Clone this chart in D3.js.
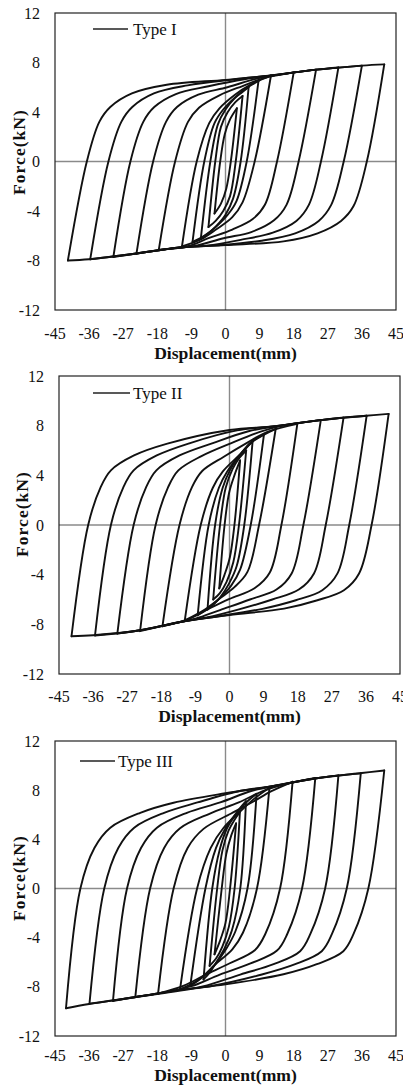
<!DOCTYPE html>
<html><head><meta charset="utf-8">
<script src="https://cdn.jsdelivr.net/npm/d3@7"></script>
<style>
html,body{margin:0;padding:0;background:#fff;}
svg{display:block;}
text{font-family:"Liberation Serif","Times New Roman",serif;fill:#111;}
</style></head>
<body>
<svg id="chart" width="403" height="1086"></svg>
<script>
// ---------- data ----------
const xTicks = [-45,-36,-27,-18,-9,0,9,18,27,36,45];
const yTicks = [-12,-8,-4,0,4,8,12];
const legendLabels = ["Type I","Type II","Type III"];
const xTitle = "Displacement(mm)";
const yTitle = "Force(kN)";

// Type I : ascending (negative peak -> positive peak) and descending branches, [mm, kN]
const typeI_asc = [
 [[-41.6,-8.0],[-36.6,0],[-33.3,3.2],[-30.4,4.4],[-24.7,5.5],[-15.5,6.2],[0,6.6],[12,6.95],[24,7.42],[36,7.75],[41.9,7.85]],
 [[-35.7,-7.9],[-30.9,0],[-27.5,3.2],[-24.6,4.4],[-18.9,5.5],[-10,6.15],[2,6.62],[12,6.95],[24,7.42],[36,7.75]],
 [[-29.6,-7.72],[-25.1,0],[-21.7,3.2],[-18.8,4.4],[-13.1,5.45],[-4.5,6.08],[5,6.65],[12,6.93],[24,7.42],[29.8,7.6]],
 [[-23.5,-7.45],[-19.1,0],[-15.7,3.2],[-12.8,4.4],[-7.2,5.4],[0.5,6.0],[8,6.68],[14,7.02],[23.9,7.42]],
 [[-17.6,-7.12],[-13.3,0],[-9.9,3.2],[-7.0,4.35],[-1.6,5.35],[4.5,6.1],[10,6.72],[18,7.2]],
 [[-11.5,-6.87],[-7.6,0],[-4.3,3.1],[-1.6,4.3],[2.5,5.4],[6.5,6.2],[12,6.95]],
 [[-8.7,-6.5],[-5.6,0],[-2.9,3.1],[-0.6,4.2],[2.6,5.2],[5.6,5.95],[8.7,6.5]],
 [[-6.5,-6.2],[-4.0,0],[-2.0,3.0],[0,4.2],[2.4,5.1],[4.4,5.6],[6.1,6.0]],
 [[-4.5,-5.3],[-2.7,0],[-1.2,2.8],[0.6,4.0],[2.6,4.8],[4.5,5.3]],
 [[-2.9,-4.2],[-1.4,0],[-0.2,2.2],[1.2,3.4],[3.0,4.3]]
];
const typeI_desc = [
 [[41.9,7.85],[37.3,0],[33.8,-3.6],[30.5,-4.8],[24.3,-5.8],[15.3,-6.45],[0,-6.75],[-12,-6.95],[-24,-7.45],[-36,-7.9],[-41.6,-8.0]],
 [[36.0,7.75],[31.2,0],[27.9,-3.5],[24.6,-4.8],[18.4,-5.8],[9.5,-6.4],[-2,-6.77],[-12,-6.95],[-24,-7.45],[-35.7,-7.9]],
 [[29.8,7.6],[25.2,0],[22.0,-3.5],[18.7,-4.8],[12.5,-5.75],[4,-6.33],[-5,-6.8],[-12,-6.95],[-24,-7.45],[-29.6,-7.72]],
 [[23.9,7.42],[19.3,0],[16.1,-3.5],[12.8,-4.75],[6.8,-5.7],[-0.5,-6.2],[-8,-6.82],[-14,-7.02],[-23.5,-7.45]],
 [[18.0,7.2],[13.6,0],[10.4,-3.5],[7.2,-4.65],[1.8,-5.5],[-4.5,-6.2],[-10,-6.85],[-17.6,-7.12]],
 [[12.0,6.95],[7.7,0],[4.5,-3.3],[1.8,-4.5],[-2.5,-5.5],[-6.5,-6.3],[-11.5,-6.87]],
 [[8.7,6.5],[5.6,0],[2.9,-3.2],[0.6,-4.3],[-2.6,-5.3],[-5.6,-6.0],[-8.7,-6.5]],
 [[6.1,6.0],[4.0,0],[2.0,-3.0],[0,-4.3],[-2.4,-5.2],[-4.4,-5.75],[-6.5,-6.2]],
 [[4.5,5.3],[2.7,0],[1.2,-2.8],[-0.6,-4.0],[-2.6,-4.8],[-4.5,-5.3]],
 [[3.0,4.3],[1.4,0],[0.2,-2.2],[-1.2,-3.4],[-2.9,-4.2]]
];

// Type II
const typeII_asc = [
 [[-41.7,-8.96],[-37.3,0],[-34.0,3.05],[-31.3,4.4],[-25.2,5.6],[-16.4,6.55],[0,7.65],[12,7.95],[24,8.45],[36,8.8],[42,8.95]],
 [[-35.5,-8.9],[-31.3,0],[-28.0,3.05],[-25.3,4.4],[-19.2,5.6],[-10.4,6.6],[2,7.62],[12,7.95],[24,8.45],[36.2,8.8]],
 [[-29.6,-8.75],[-25.3,0],[-22.0,3.05],[-19.3,4.4],[-13.2,5.6],[-4.4,6.6],[5,7.55],[12,7.93],[24,8.45],[30.1,8.65]],
 [[-23.6,-8.55],[-19.5,0],[-16.2,3.05],[-13.5,4.4],[-7.4,5.55],[0.5,6.6],[8,7.5],[14,8.0],[24.1,8.45]],
 [[-17.7,-8.16],[-13.2,0],[-9.9,3.05],[-7.2,4.35],[-1.5,5.5],[4.5,6.6],[10,7.5],[17.9,8.15]],
 [[-11.8,-7.68],[-7.6,0],[-4.4,3.0],[-1.8,4.3],[2.5,5.6],[6.5,6.8],[12.2,7.75]],
 [[-8.4,-7.27],[-5.5,0],[-2.8,3.0],[-0.6,4.3],[2.6,5.6],[5.8,6.7],[9.1,7.3]],
 [[-5.8,-6.8],[-3.8,0],[-1.8,3.0],[0.1,4.4],[2.4,5.5],[4.4,6.2],[6.1,6.75]],
 [[-4.3,-6.0],[-2.5,0],[-1.0,3.0],[0.8,4.5],[2.6,5.4],[4.4,6.0]],
 [[-2.7,-5.1],[-1.3,0],[-0.1,2.6],[1.3,4.0],[2.8,5.2]]
];
const typeII_desc = [
 [[42.0,8.95],[37.5,0],[34.2,-3.9],[30.2,-5.25],[23.2,-6.06],[14.4,-6.73],[0,-7.25],[-12,-7.75],[-24,-8.5],[-36,-8.88],[-41.7,-8.96]],
 [[36.2,8.8],[31.6,0],[28.5,-3.9],[24.5,-5.25],[17.5,-6.06],[8.7,-6.75],[-3,-7.35],[-12,-7.75],[-24,-8.5],[-35.5,-8.9]],
 [[30.1,8.65],[25.4,0],[22.3,-3.9],[18.3,-5.2],[11.3,-6.0],[2.5,-6.8],[-6,-7.45],[-12,-7.75],[-24,-8.5],[-29.6,-8.75]],
 [[24.1,8.45],[19.5,0],[16.4,-3.9],[12.4,-5.2],[5.4,-6.0],[-2.5,-6.85],[-9,-7.55],[-15,-7.95],[-23.6,-8.55]],
 [[17.9,8.15],[13.7,0],[10.6,-3.85],[6.6,-5.1],[0,-5.95],[-5.5,-6.75],[-11,-7.6],[-17.7,-8.16]],
 [[12.2,7.75],[7.8,0],[4.7,-3.8],[1.3,-5.0],[-2.5,-5.9],[-6.5,-6.8],[-11.8,-7.68]],
 [[9.1,7.3],[5.6,0],[2.8,-3.6],[0.4,-4.9],[-2.6,-5.9],[-5.6,-6.7],[-8.4,-7.27]],
 [[6.1,6.75],[3.9,0],[1.9,-3.3],[-0.1,-4.7],[-2.4,-5.8],[-4.2,-6.4],[-5.8,-6.8]],
 [[4.4,6.0],[2.5,0],[1.0,-3.0],[-0.8,-4.6],[-2.6,-5.5],[-4.3,-6.0]],
 [[2.8,5.2],[1.3,0],[0.1,-2.6],[-1.3,-4.0],[-2.7,-5.1]]
];

// Type III
const typeIII_asc = [
 [[-42.1,-9.74],[-38.3,0],[-34.6,3.3],[-30.4,4.95],[-22.5,6.16],[-13.7,6.98],[0,7.75],[12,8.3],[24,8.97],[36,9.4],[41.9,9.6]],
 [[-35.9,-9.37],[-32.0,0],[-28.3,3.3],[-24.1,4.95],[-16.2,6.16],[-7.4,7.0],[4,7.95],[12,8.3],[24,8.97],[35.7,9.37]],
 [[-29.7,-9.15],[-26.0,0],[-22.3,3.3],[-18.1,4.95],[-10.2,6.16],[-1.4,7.0],[7,7.95],[14,8.42],[24,8.97],[29.8,9.2]],
 [[-23.8,-8.82],[-19.9,0],[-16.2,3.3],[-12.0,4.9],[-4.1,6.1],[3.5,7.0],[10,7.95],[16,8.5],[23.7,9.0]],
 [[-17.8,-8.55],[-13.7,0],[-10.0,3.3],[-5.8,4.85],[1.5,6.1],[7.5,7.1],[12,7.9],[17.7,8.68]],
 [[-12.0,-8.2],[-7.5,0],[-3.9,3.3],[-0.6,4.9],[4,6.3],[8,7.4],[11.6,8.2]],
 [[-9.3,-7.93],[-5.3,0],[-2.5,3.3],[0,4.9],[3,6.2],[5.8,7.1],[8.2,7.7]],
 [[-5.8,-7.4],[-3.5,0],[-1.5,3.2],[0.4,4.9],[2.4,5.9],[4,6.6],[5.4,7.1]],
 [[-4.2,-6.3],[-2.2,0],[-0.8,3.1],[0.8,4.7],[2.4,5.6],[3.8,6.2]],
 [[-2.9,-5.35],[-1.0,0],[0.2,2.8],[1.5,4.3],[2.8,5.3]]
];
const typeIII_desc = [
 [[41.9,9.6],[37.7,0],[33.8,-3.7],[31.1,-5.1],[24.1,-6.16],[15.3,-6.98],[0,-7.8],[-12,-8.25],[-24,-8.85],[-36,-9.4],[-42.1,-9.74]],
 [[35.7,9.37],[32.0,0],[28.1,-3.7],[25.4,-5.1],[18.4,-6.16],[9.6,-7.0],[-4,-7.95],[-12,-8.25],[-24,-8.85],[-35.9,-9.37]],
 [[29.8,9.2],[26.3,0],[22.4,-3.7],[19.7,-5.1],[12.7,-6.16],[3.9,-7.0],[-6,-7.97],[-14,-8.4],[-24,-8.85],[-29.7,-9.15]],
 [[23.7,9.0],[20.2,0],[16.3,-3.7],[13.6,-5.05],[6.6,-6.1],[-1.5,-7.0],[-9,-7.95],[-16,-8.45],[-23.8,-8.82]],
 [[17.7,8.68],[14.4,0],[10.5,-3.7],[7.8,-5.0],[1,-6.1],[-5.5,-7.05],[-11,-7.9],[-17.8,-8.55]],
 [[11.6,8.2],[8.3,0],[4.6,-3.6],[1.8,-4.95],[-2.8,-6.2],[-7,-7.4],[-12.0,-8.2]],
 [[8.2,7.7],[5.8,0],[2.6,-3.5],[0.2,-4.9],[-2.8,-6.2],[-6,-7.2],[-9.3,-7.93]],
 [[5.4,7.1],[3.9,0],[1.7,-3.4],[-0.3,-4.9],[-2.4,-6.0],[-4.1,-6.8],[-5.8,-7.4]],
 [[3.8,6.2],[2.4,0],[0.9,-3.1],[-0.8,-4.7],[-2.5,-5.7],[-4.2,-6.3]],
 [[2.8,5.3],[1.2,0],[0,-2.8],[-1.5,-4.3],[-2.9,-5.35]]
];

// ---------- layout ----------
const panels = [
 {asc:typeI_asc, desc:typeI_desc, label:legendLabels[0], L:55, R:396, T:13, B:310,
  leg:{x1:93,x2:128,y:29,tx:133}, yt:{x:19,y:152}, xtY:358.5, xtickY:338.5},
 {asc:typeII_asc, desc:typeII_desc, label:legendLabels[1], L:59, R:400, T:376, B:674,
  leg:{x1:93,x2:130,y:393,tx:133}, yt:{x:22,y:514}, xtY:722, xtickY:702},
 {asc:typeIII_asc, desc:typeIII_desc, label:legendLabels[2], L:55, R:396, T:741, B:1036,
  leg:{x1:80,x2:115,y:761,tx:118}, yt:{x:19,y:878}, xtY:1080.5, xtickY:1060.5}
];

const svg = d3.select("#chart");
const FONT = "'Liberation Serif','Times New Roman',serif";

panels.forEach(p => {
  const x = d3.scaleLinear().domain([-45,45]).range([p.L,p.R]);
  const y = d3.scaleLinear().domain([-12,12]).range([p.B,p.T]);
  const g = svg.append("g");

  // zero axes (gray)
  g.append("line").attr("x1",x(0)).attr("x2",x(0)).attr("y1",p.T).attr("y2",p.B)
    .attr("stroke","#8a8a8a").attr("stroke-width",1.4);
  g.append("line").attr("x1",p.L).attr("x2",p.R).attr("y1",y(0)).attr("y2",y(0))
    .attr("stroke","#8a8a8a").attr("stroke-width",1.4);

  // frame
  g.append("rect").attr("x",p.L).attr("y",p.T).attr("width",p.R-p.L).attr("height",p.B-p.T)
    .attr("fill","none").attr("stroke","#222").attr("stroke-width",1.2);

  // hysteresis curves
  const line = d3.line().x(d=>x(d[0])).y(d=>y(d[1])).curve(d3.curveCatmullRom.alpha(0.5));
  const branches = p.asc.concat(p.desc);
  g.selectAll("path.loop").data(branches).join("path").attr("class","loop")
    .attr("d", line).attr("fill","none").attr("stroke","#111")
    .attr("stroke-width",1.9).attr("stroke-linejoin","round").attr("stroke-linecap","round");

  // y ticks
  g.selectAll("text.yt").data(yTicks).join("text").attr("class","yt")
    .attr("x",p.L-15).attr("y",d=>y(d)).attr("dy","0.35em").attr("font-family",FONT)
    .attr("text-anchor","end").attr("font-size",16).text(d=>d);
  // x ticks
  g.selectAll("text.xt").data(xTicks).join("text").attr("class","xt")
    .attr("x",d=>x(d)).attr("y",p.xtickY).attr("font-family",FONT)
    .attr("text-anchor","middle").attr("font-size",16).text(d=>d);

  // titles
  g.append("text").attr("x",(p.L+p.R)/2).attr("y",p.xtY).attr("text-anchor","middle")
    .attr("font-family",FONT).attr("font-size",17.6).attr("font-weight","bold").text(xTitle);
  g.append("text").attr("transform",`translate(${p.yt.x},${p.yt.y}) rotate(-90)`)
    .attr("text-anchor","middle").attr("dy","0.35em").attr("font-family",FONT)
    .attr("letter-spacing",1).attr("font-size",17.6).attr("font-weight","bold").text(yTitle);

  // legend
  g.append("line").attr("x1",p.leg.x1).attr("x2",p.leg.x2).attr("y1",p.leg.y).attr("y2",p.leg.y)
    .attr("stroke","#222").attr("stroke-width",1.6);
  g.append("text").attr("x",p.leg.tx).attr("y",p.leg.y).attr("dy","0.35em").attr("font-family",FONT)
    .attr("font-size",17).text(p.label);
});
</script>
</body></html>
